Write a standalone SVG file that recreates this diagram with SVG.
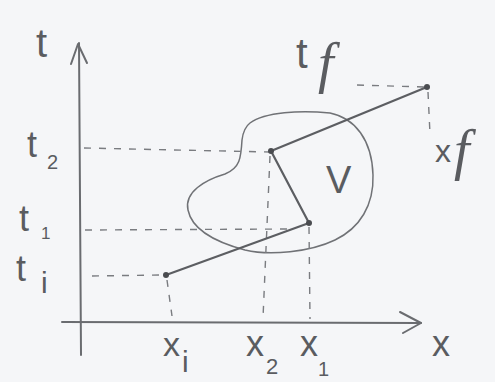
<svg xmlns="http://www.w3.org/2000/svg" width="495" height="382" viewBox="0 0 495 382">
<style>
.axis{fill:none;stroke:#6a6c70;stroke-width:2;stroke-linecap:round;stroke-linejoin:round}
.path{fill:none;stroke:#5c5e62;stroke-width:2.2;stroke-linecap:round}
.dash{fill:none;stroke:#7a7c80;stroke-width:1.4;stroke-dasharray:7 8}
.blob{fill:none;stroke:#707276;stroke-width:1.5}
.lbl{font-family:"Liberation Sans",Arial,sans-serif;fill:#5a5c60}
.f{font-family:"Liberation Serif","Times New Roman",serif;font-style:italic;fill:#5a5c60}
.dot{fill:#4a4c50}
</style>
<rect width="495" height="382" fill="#f5f6f8"/>
<g id="axes">
<path class="axis" d="M79,43 L81,355"/>
<path class="axis" d="M71,64 L78,44 L87,63"/>
<path class="axis" d="M62,322 L421,323"/>
<path class="axis" d="M400,312 L421,323 L403,333"/>
</g>
<g id="region-V">
<path class="blob" d="M250,123 C265,112 300,110 330,113 C355,118 372,140 373,175 C374,205 360,228 335,240 C310,252 270,256 245,250 C215,242 192,230 188,210 C184,192 205,180 225,174 C240,168 241,158 242,140 C243,132 246,126 250,123 Z"/>
<text class="lbl" x="326" y="193" font-size="38">V</text>
</g>
<g id="connectors">
<path class="dash" d="M84,148 L270,152"/>
<path class="dash" d="M85,230 L290,229"/>
<path class="dash" d="M92,276 L162,275" stroke-dasharray="5 6"/>
<path class="dash" d="M167,280 L172,316"/>
<path class="dash" d="M270,156 L263,318"/>
<path class="dash" d="M309,227 L310,319"/>
<path class="dash" d="M357,85 L424,87"/>
<path class="dash" d="M428,92 L430,134"/>
<path class="path" d="M166,275 L309,223"/>
<path class="path" d="M309,223 L271,151" stroke-width="2.6"/>
<path class="path" d="M271,151 L427,87"/>
</g>
<g id="node-i"><circle class="dot" cx="166" cy="275" r="3"/></g>
<g id="node-1"><circle class="dot" cx="309" cy="223" r="3"/></g>
<g id="node-2"><circle class="dot" cx="271" cy="151" r="3"/></g>
<g id="node-f"><circle class="dot" cx="427" cy="87" r="3"/></g>
<g id="labels">
<text class="lbl" x="36" y="57" font-size="40">t</text>
<text class="lbl" x="27" y="157" font-size="36">t</text><text class="lbl" x="47" y="169" font-size="20">2</text>
<text class="lbl" x="19" y="231" font-size="36">t</text><text class="lbl" x="41" y="239" font-size="17">1</text>
<text class="lbl" x="16" y="281" font-size="36">t</text><text class="lbl" x="41" y="293" font-size="30">i</text>
<text class="lbl" x="163" y="356" font-size="34">x</text><text class="lbl" x="182" y="372" font-size="30">i</text>
<text class="lbl" x="246" y="356" font-size="36">x</text><text class="lbl" x="266" y="374" font-size="22">2</text>
<text class="lbl" x="300" y="356" font-size="36">x</text><text class="lbl" x="318" y="376" font-size="20">1</text>
<text class="lbl" x="432" y="356" font-size="36">x</text>
<text class="lbl" x="296" y="68" font-size="42">t</text><text class="f" x="318" y="82" font-size="56">f</text>
<text class="lbl" x="435" y="162" font-size="32">x</text><text class="f" x="454" y="169" font-size="56">f</text>
</g>
</svg>
